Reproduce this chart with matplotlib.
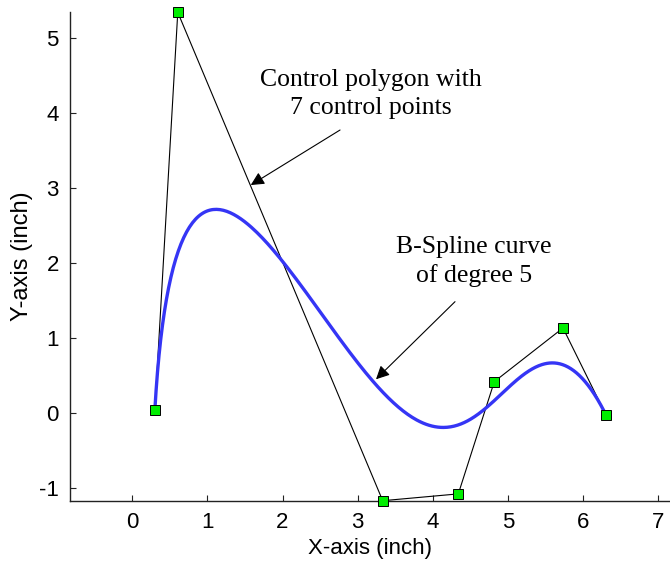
import numpy as np
import matplotlib.pyplot as plt

# control polygon (inch)
ctrl_x = [0.30, 0.605, 3.334, 4.341, 4.82, 5.735, 6.307]
ctrl_y = [0.04, 5.34, -1.175, -1.084, 0.413, 1.129, -0.031]
degree = 5

x_ticks = [0, 1, 2, 3, 4, 5, 6, 7]
y_ticks = [-1, 0, 1, 2, 3, 4, 5]


def clamped_knots(n_ctrl, p):
    n_inner = n_ctrl - p - 1
    inner = np.linspace(0, 1, n_inner + 2)[1:-1]
    return np.concatenate([np.zeros(p + 1), inner, np.ones(p + 1)])


def basis(i, p, u, knots):
    # Cox-de Boor recursion
    if p == 0:
        last = knots[i + 1] == knots[-1] and knots[i] < knots[i + 1]
        if last:
            return ((u >= knots[i]) & (u <= knots[i + 1])).astype(float)
        return ((u >= knots[i]) & (u < knots[i + 1])).astype(float)
    out = np.zeros_like(u)
    d1 = knots[i + p] - knots[i]
    if d1 > 0:
        out += (u - knots[i]) / d1 * basis(i, p - 1, u, knots)
    d2 = knots[i + p + 1] - knots[i + 1]
    if d2 > 0:
        out += (knots[i + p + 1] - u) / d2 * basis(i + 1, p - 1, u, knots)
    return out


def bspline(px, py, p, num=400):
    knots = clamped_knots(len(px), p)
    u = np.linspace(0, 1, num)
    N = np.array([basis(i, p, u, knots) for i in range(len(px))])
    return N.T @ np.array(px), N.T @ np.array(py)


cx, cy = bspline(ctrl_x, ctrl_y, degree)

plt.rcParams['font.family'] = ['Liberation Sans', 'DejaVu Sans']
plt.rcParams['axes.unicode_minus'] = False

fig = plt.figure(figsize=(6.7, 5.65), dpi=100)
ax = fig.add_axes([0.1045, 0.1138, 0.8955, 0.8644])

ax.plot(ctrl_x, ctrl_y, color='black', lw=0.8, zorder=2, clip_on=False)
ax.plot(cx, cy, color='#3535f5', lw=2.4, zorder=3)
ax.plot(ctrl_x, ctrl_y, 's', ms=7.5, mfc='#00ee00', mec='black', mew=0.7,
        ls='none', zorder=4, clip_on=False)

ax.set_xlim(-0.83, 7.16)
ax.set_ylim(-1.175, 5.34)
ax.set_xticks(x_ticks)
ax.set_yticks(y_ticks)
ax.tick_params(direction='in', length=4, width=0.8, labelsize=16, pad=8,
               colors='#222222', labelcolor='black')
for s in ['top', 'right']:
    ax.spines[s].set_visible(False)
for s in ['left', 'bottom']:
    ax.spines[s].set_linewidth(1.0)
    ax.spines[s].set_color('#222222')

ax.set_xlabel('X-axis (inch)', fontsize=16, labelpad=4)
ax.set_ylabel('Y-axis (inch)', fontsize=17, labelpad=4)

serif = ['Liberation Serif', 'DejaVu Serif']
arrow = dict(arrowstyle='-|>', color='black', lw=0.8,
             mutation_scale=20, shrinkA=0, shrinkB=0)

ax.text(3.17, 4.25, 'Control polygon with\n7 control points', ha='center',
        va='center', fontsize=18.5, family=serif, linespacing=1.38)
ax.annotate('', xy=(1.577, 3.036), xytext=(2.766, 3.77), arrowprops=arrow)

ax.text(4.55, 2.02, 'B-Spline curve\nof degree 5', ha='center',
        va='center', fontsize=18.5, family=serif, linespacing=1.32)
ax.annotate('', xy=(3.245, 0.445), xytext=(4.297, 1.48), arrowprops=arrow)

fig.savefig('out.png', dpi=100)
